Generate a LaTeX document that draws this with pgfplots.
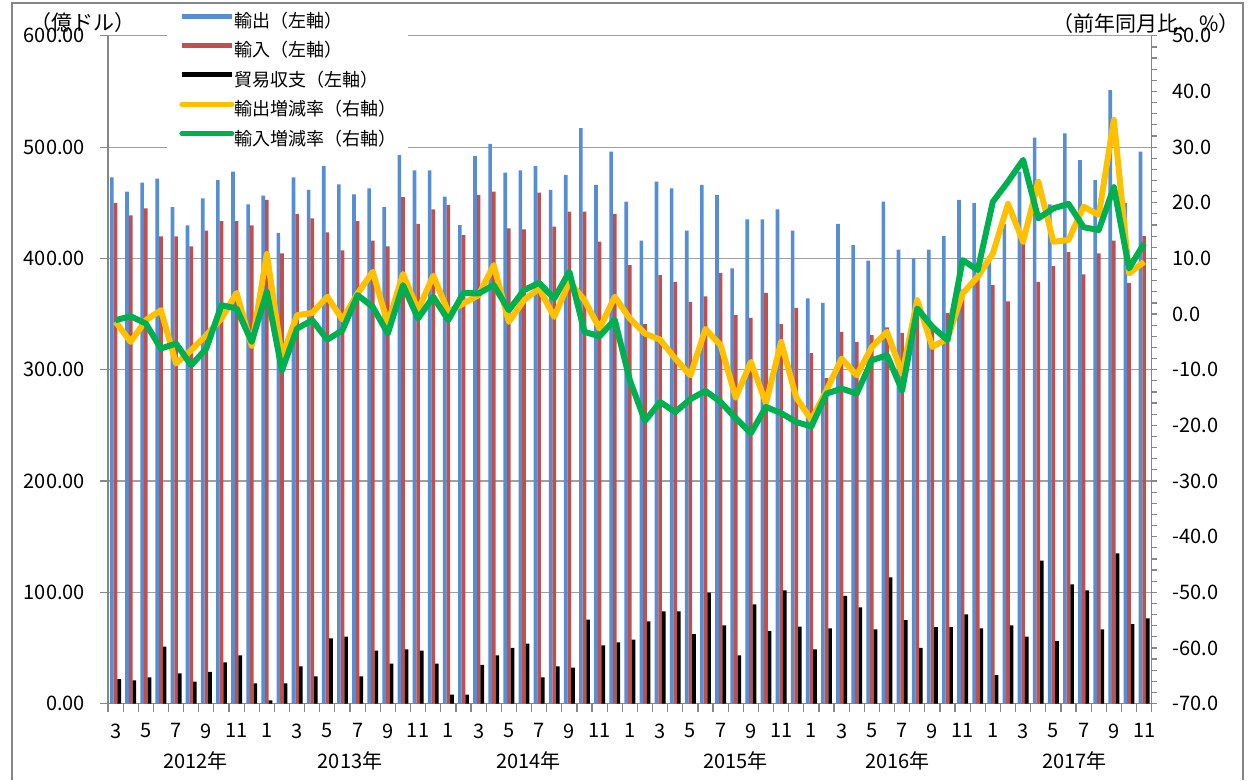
\documentclass[border=0pt]{standalone}
\usepackage{fontspec}
\setmainfont{Noto Sans CJK JP}
\usepackage{pgfplots}
\usepackage{pgfplotstable}
\pgfplotsset{compat=1.18}
\definecolor{cexp}{RGB}{85,142,213}
\definecolor{cimp}{RGB}{192,80,77}
\definecolor{cexpg}{RGB}{255,192,0}
\definecolor{cimpg}{RGB}{0,176,80}
\definecolor{cgrid}{RGB}{160,160,160}
\definecolor{caxis}{RGB}{134,134,134}
\tikzset{yearlab/.style={font=\fontsize{10pt}{12pt}\selectfont, anchor=center, yshift=-28.6pt}}

\pgfplotstableread{
i exp imp bal expg impg
0 472.9 450.0 22.1 -1.4 -1.1
1 460.0 438.7 20.9 -5.0 -0.4
2 468.0 445.0 23.6 -1.1 -1.7
3 471.6 419.8 51.1 0.7 -6.2
4 446.0 419.8 27.2 -8.9 -5.3
5 429.7 410.8 19.7 -6.5 -9.2
6 454.0 425.0 28.4 -3.8 -6.2
7 470.4 433.6 37.1 -0.8 1.6
8 478.0 433.6 43.4 3.8 1.0
9 448.6 429.7 18.2 -5.7 -5.0
10 456.3 452.7 3.0 10.8 4.0
11 423.0 404.6 18.2 -7.7 -10.1
12 472.9 439.9 33.5 -0.2 -2.6
13 461.5 436.0 24.5 0.2 -1.1
14 483.0 423.4 58.6 3.1 -4.6
15 466.6 407.3 60.1 -1.0 -2.9
16 457.6 433.6 24.5 3.7 3.4
17 463.0 416.0 47.5 7.6 1.3
18 446.0 410.8 35.9 -1.7 -3.5
19 504.3 455.0 48.7 7.2 5.2
20 479.0 431.0 47.5 0.7 -0.8
21 479.0 444.0 35.9 6.9 3.1
22 455.5 448.0 8.0 0.4 -1.1
23 430.0 421.0 8.0 1.9 3.8
24 492.0 457.0 34.7 3.4 3.7
25 503.0 460.0 43.4 8.8 5.2
26 477.0 427.0 50.0 -1.4 0.7
27 479.0 426.0 53.8 2.5 4.3
28 483.0 459.0 23.6 4.6 5.6
29 461.5 428.6 33.5 -0.5 2.8
30 475.0 442.0 32.3 5.8 7.6
31 517.0 442.0 75.4 2.5 -3.2
32 466.0 415.0 52.3 -2.6 -4.0
33 496.0 440.0 55.0 3.1 -1.0
34 451.0 394.0 57.4 -0.8 -11.9
35 416.0 341.0 73.9 -3.5 -19.2
36 469.0 385.0 82.9 -4.6 -15.8
37 463.0 379.0 82.9 -8.0 -17.6
38 425.0 361.0 62.5 -11.0 -15.3
39 466.0 366.0 99.7 -2.7 -13.8
40 457.0 387.0 70.3 -5.6 -15.8
41 391.0 349.0 43.4 -15.0 -18.7
42 435.0 346.5 89.2 -8.6 -21.4
43 435.0 369.0 65.2 -16.0 -16.7
44 444.0 341.0 101.8 -5.0 -17.8
45 425.0 355.5 69.1 -15.0 -19.4
46 364.0 315.0 48.7 -19.0 -20.2
47 360.0 292.5 67.6 -13.7 -14.3
48 431.0 334.0 96.7 -8.0 -13.4
49 412.0 325.0 86.5 -11.0 -14.3
50 398.0 331.0 66.7 -5.9 -8.3
51 451.0 338.0 113.4 -3.2 -7.4
52 408.0 333.0 75.1 -10.7 -13.7
53 400.0 350.0 50.0 2.5 1.0
54 408.0 339.0 68.8 -5.9 -2.3
55 420.0 351.0 68.8 -4.4 -4.7
56 452.5 372.0 80.2 3.7 9.7
57 450.0 382.5 67.6 6.7 7.9
58 402.0 376.0 25.7 10.9 20.2
59 431.0 361.5 70.3 19.8 23.8
60 478.0 416.0 60.1 13.0 27.7
61 508.5 379.0 128.4 23.8 17.2
62 448.6 393.0 56.2 13.0 19.0
63 512.4 405.7 107.2 13.3 19.8
64 488.4 385.7 101.8 19.3 15.6
65 470.4 404.6 66.7 17.8 15.1
66 551.3 416.0 135.0 34.9 22.8
67 450.0 378.0 71.5 7.3 8.2
68 495.9 420.0 76.6 9.4 12.7
}\datatable

\begin{document}
\begin{tikzpicture}
\path (0pt,0pt) rectangle (626.5pt,390pt);
\draw[caxis, line width=0.75pt] (6pt,0pt) -- (6pt,388.5pt) -- (621.5pt,388.5pt) -- (621.5pt,0pt);
\begin{axis}[
  at={(54pt,38.2pt)}, anchor=south west,
  width=521.85pt, height=333.9pt, scale only axis,
  clip=false,
  xmin=-0.5, xmax=68.5, ymin=0, ymax=600,
  axis x line*=bottom, axis y line*=left,
  axis line style={caxis, line width=0.6pt},
  tick style={caxis, line width=0.6pt},
  tick align=outside, major tick length=4pt,
  ymajorgrids, major grid style={cgrid, line width=0.6pt},
  ytick={0,100,...,600},
  /pgf/number format/assume math mode=true,
  yticklabel style={/pgf/number format/fixed, /pgf/number format/fixed zerofill, /pgf/number format/precision=2, xshift=-4pt},
  xtick={-0.5,0.5,...,68.5}, xticklabels={},
  extra x ticks={0,2,...,68},
  extra x tick labels={3,5,7,9,11,1,3,5,7,9,11,1,3,5,7,9,11,1,3,5,7,9,11,1,3,5,7,9,11,1,3,5,7,9,11},
  extra x tick style={major tick length=0pt, xticklabel style={yshift=-6.5pt}},
  tick label style={font=\fontsize{10pt}{12pt}\selectfont, text=black},
]
\addplot[ybar, bar width=0.24, bar shift=-0.24, fill=cexp, draw=none] table[x=i,y=exp]{\datatable};
\addplot[ybar, bar width=0.24, bar shift=0, fill=cimp, draw=none] table[x=i,y=imp]{\datatable};
\addplot[ybar, bar width=0.24, bar shift=0.24, fill=black, draw=none] table[x=i,y=bal]{\datatable};
\node[yearlab] at (axis cs:5.3,0) {2012年};
\node[yearlab] at (axis cs:15.5,0) {2013年};
\node[yearlab] at (axis cs:27.3,0) {2014年};
\node[yearlab] at (axis cs:41.0,0) {2015年};
\node[yearlab] at (axis cs:51.7,0) {2016年};
\node[yearlab] at (axis cs:63.4,0) {2017年};
\end{axis}
\begin{axis}[
  at={(54pt,38.2pt)}, anchor=south west,
  width=521.85pt, height=333.9pt, scale only axis,
  xmin=-0.5, xmax=68.5, ymin=-70, ymax=50,
  axis x line=none, axis y line*=right,
  axis line style={caxis, line width=0.6pt},
  tick style={caxis, line width=0.6pt},
  tick align=outside, major tick length=2.5pt, minor tick length=2.5pt,
  ytick={-70,-60,...,50}, minor y tick num=4,
  /pgf/number format/assume math mode=true,
  yticklabel style={/pgf/number format/fixed, /pgf/number format/fixed zerofill, /pgf/number format/precision=1, xshift=4.5pt},
  tick label style={font=\fontsize{10pt}{12pt}\selectfont, text=black},
  legend image code/.code={\draw[#1] (0pt,3.2pt) -- (25pt,3.2pt);},
  legend style={at={(axis description cs:0.0565,1.043)}, anchor=north west,
    draw=none, fill=white, font=\fontsize{9pt}{10pt}\selectfont,
    nodes={inner sep=0pt, text height=7pt, text depth=2pt},
    row sep=5.7pt, inner xsep=6pt, inner ysep=3pt,
    /tikz/every even column/.append style={column sep=4.5pt}},
  legend cell align=left,
]
\addlegendimage{cexp, line width=2.5pt}
\addlegendimage{cimp, line width=2.5pt}
\addlegendimage{black, line width=2.5pt}
\addlegendimage{cexpg, line width=2.5pt, line cap=round}
\addlegendimage{cimpg, line width=2.5pt, line cap=round}
\addplot[forget plot, cexpg, line width=3pt, line join=round] table[x=i,y=expg]{\datatable};
\addplot[forget plot, cimpg, line width=3pt, line join=round] table[x=i,y=impg]{\datatable};
\legend{輸出（左軸）,輸入（左軸）,貿易収支（左軸）,輸出増減率（右軸）,輸入増減率（右軸）}
\end{axis}
\node[anchor=west, font=\fontsize{10.5pt}{12pt}\selectfont, inner sep=0pt] at (15pt,378.5pt) {（億ドル）};
\node[anchor=east, font=\fontsize{10.5pt}{12pt}\selectfont, inner sep=0pt] at (620pt,378pt) {（前年同月比、\%）};
\end{tikzpicture}
\end{document}
